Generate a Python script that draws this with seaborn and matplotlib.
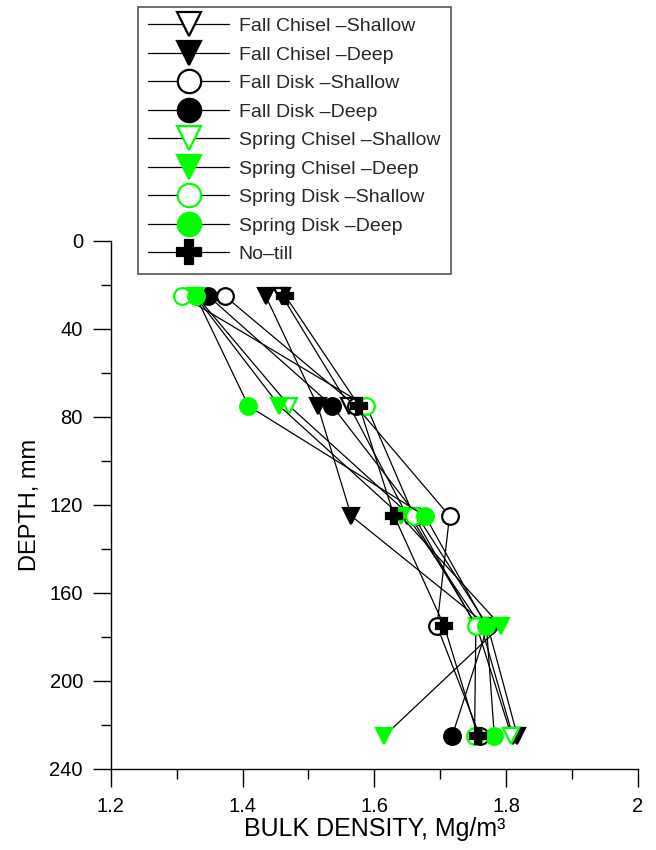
import numpy as np
import pandas as pd
import matplotlib
matplotlib.use("Agg")
import matplotlib.pyplot as plt
import seaborn as sns

# ---- data ----
depth = [25, 75, 125, 175, 225]
series_names = [
    "Fall Chisel \u2013Shallow",
    "Fall Chisel \u2013Deep",
    "Fall Disk \u2013Shallow",
    "Fall Disk \u2013Deep",
    "Spring Chisel \u2013Shallow",
    "Spring Chisel \u2013Deep",
    "Spring Disk \u2013Shallow",
    "Spring Disk \u2013Deep",
    "No\u2013till",
]
fall_chisel_shallow = [1.460, 1.562, 1.650, 1.762, 1.810]
fall_chisel_deep = [1.435, 1.514, 1.565, 1.772, 1.817]
fall_disk_shallow = [1.373, 1.572, 1.714, 1.695, 1.760]
fall_disk_deep = [1.348, 1.536, 1.665, 1.772, 1.718]
spring_chisel_shallow = [1.330, 1.471, 1.655, 1.755, 1.808]
spring_chisel_deep = [1.328, 1.456, 1.640, 1.792, 1.615]
spring_disk_shallow = [1.308, 1.588, 1.660, 1.754, 1.752]
spring_disk_deep = [1.329, 1.409, 1.677, 1.770, 1.782]
no_till = [1.465, 1.577, 1.630, 1.706, 1.757]

values = [fall_chisel_shallow, fall_chisel_deep, fall_disk_shallow, fall_disk_deep,
          spring_chisel_shallow, spring_chisel_deep, spring_disk_shallow,
          spring_disk_deep, no_till]

GREEN = "#00FF00"
styles = [
    dict(marker="v", mfc="white", mec="black"),
    dict(marker="v", mfc="black", mec="black"),
    dict(marker="o", mfc="white", mec="black"),
    dict(marker="o", mfc="black", mec="black"),
    dict(marker="v", mfc="white", mec=GREEN),
    dict(marker="v", mfc=GREEN, mec=GREEN),
    dict(marker="o", mfc="white", mec=GREEN),
    dict(marker="o", mfc=GREEN, mec=GREEN),
    dict(marker="P", mfc="black", mec="black"),
]

sns.set_theme(style="ticks")
plt.rcParams["font.family"] = ["Liberation Sans", "DejaVu Sans"]

fig = plt.figure(figsize=(6.56, 8.5), dpi=100)
ax = fig.add_axes([0.1688, 0.0953, 0.9726 - 0.1688, 0.7165 - 0.0953])

for name, vals, st in zip(series_names, values, styles):
    df = pd.DataFrame({"bd": vals, "depth": depth})
    sns.lineplot(data=df, x="bd", y="depth", orient="y", sort=True, estimator=None,
                 color="black", linewidth=0.9, marker=st["marker"], markersize=12,
                 markerfacecolor=st["mfc"], markeredgecolor=st["mec"],
                 markeredgewidth=1.6, label=name, ax=ax, legend=False)

ax.set_xlim(1.2, 2.0)
ax.set_ylim(240, 0)
ax.set_xticks([1.2, 1.4, 1.6, 1.8, 2.0])
ax.set_xticklabels(["1.2", "1.4", "1.6", "1.8", "2"])
ax.set_xticks(np.arange(1.3, 2.0, 0.2), minor=True)
ax.set_yticks([0, 40, 80, 120, 160, 200, 240])
ax.set_yticks([20, 60, 100, 140, 180, 220], minor=True)
ax.tick_params(which="major", length=13, width=1, color="black", labelsize=14.5,
               direction="out", pad=7, labelcolor="black")
ax.tick_params(which="minor", length=7, width=1, color="black", direction="out")
for s in ["top", "right"]:
    ax.spines[s].set_visible(False)
for s in ["left", "bottom"]:
    ax.spines[s].set_color("black")
    ax.spines[s].set_linewidth(1)

ax.set_xlabel("BULK DENSITY, Mg/m\u00b3", fontsize=18, labelpad=1, color="black")
ax.set_ylabel("DEPTH, mm", fontsize=17, labelpad=6, color="black")

handles, labels = ax.get_legend_handles_labels()
leg = fig.legend(handles, labels, loc="upper left", bbox_to_anchor=(0.21, 0.992),
                 bbox_transform=fig.transFigure, fontsize=14, markerscale=1.4,
                 handlelength=4.15, handletextpad=0.5, labelspacing=0.56,
                 borderpad=0.55, borderaxespad=0, fancybox=False, framealpha=1,
                 edgecolor="#555555")
leg.get_frame().set_linewidth(1.2)

fig.savefig("out.png", dpi=100)
